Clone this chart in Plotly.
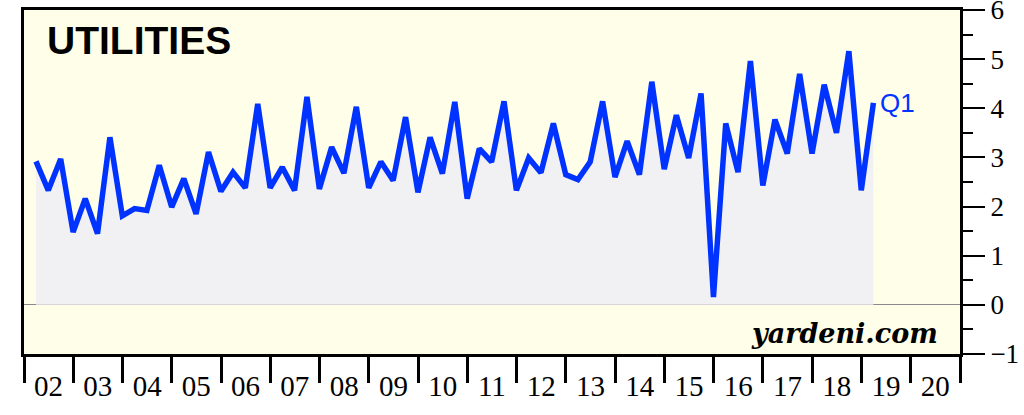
import plotly.graph_objects as go
import pandas as pd

# Quarterly data, 2002 Q1 .. 2019 Q1
start_quarter = "2002Q1"
values = [
    2.92, 2.33, 2.97, 1.48, 2.16, 1.45, 3.41, 1.81, 1.96, 1.92, 2.84, 1.99,
    2.57, 1.85, 3.11, 2.31, 2.70, 2.38, 4.09, 2.38, 2.80, 2.33, 4.23, 2.36,
    3.21, 2.68, 4.03, 2.38, 2.91, 2.53, 3.82, 2.29, 3.41, 2.67, 4.13, 2.16,
    3.18, 2.91, 4.14, 2.33, 2.99, 2.69, 3.69, 2.65, 2.55, 2.91, 4.14, 2.60,
    3.33, 2.65, 4.54, 2.76, 3.86, 2.99, 4.30, 0.16, 3.69, 2.70, 4.96, 2.43,
    3.77, 3.08, 4.70, 3.08, 4.48, 3.50, 5.16, 2.33, 4.11,
]
year_labels = ["02", "03", "04", "05", "06", "07", "08", "09", "10", "11",
               "12", "13", "14", "15", "16", "17", "18", "19", "20"]
years = list(range(2002, 2021))
y_ticks = [-1, 0, 1, 2, 3, 4, 5, 6]
last_label = "Q1"
title_text = "UTILITIES"
source_text = "yardeni.com"

periods = pd.period_range(start=start_quarter, periods=len(values), freq="Q")
dates = [p.end_time.normalize() for p in periods]

BLUE = "rgb(0,51,255)"

fig = go.Figure()
fig.add_trace(go.Scatter(
    x=dates, y=values, mode="lines",
    line=dict(color=BLUE, width=5.5),
    fill="tozeroy", fillcolor="#f1f1f3",
    hoverinfo="skip", showlegend=False,
))

fig.add_annotation(
    x=dates[-1], y=values[-1], xref="x", yref="y",
    text=last_label, showarrow=False, xanchor="left", yanchor="middle",
    xshift=5, font=dict(family="Liberation Sans, Arial", size=26, color=BLUE),
)
fig.add_annotation(
    x=(45 - 24) / 936, y=1 - (40 - 10) / 344, xref="paper", yref="paper",
    text="<b>" + title_text + "</b>", showarrow=False, xanchor="left", yanchor="middle",
    font=dict(family="Liberation Sans, Arial", size=39, color="black"),
)
fig.add_annotation(
    x=(940 - 24) / 936, y=1 - (333 - 10) / 344, xref="paper", yref="paper",
    text="<b><i>" + source_text + "</i></b>", showarrow=False, xanchor="right", yanchor="middle",
    font=dict(family="DejaVu Serif", size=27, color="black"),
)

mid_year = [pd.Timestamp(f"{y}-07-02") for y in years]

fig.update_layout(
    width=1024, height=415,
    margin=dict(l=24, r=64, t=10, b=61),
    paper_bgcolor="white",
    plot_bgcolor="#fffee8",
    xaxis=dict(
        type="date", automargin=False,
        range=[pd.Timestamp("2002-01-01"), pd.Timestamp("2021-01-01")],
        tickmode="array", tickvals=mid_year, ticktext=year_labels,
        ticks="outside", ticklen=4, tickcolor="rgba(0,0,0,0)",
        tickfont=dict(family="Liberation Serif, Times New Roman", size=29, color="black"),
        ticklabeloverflow="allow",
        showline=True, linecolor="black", linewidth=3, mirror=True,
        showgrid=False, zeroline=False,
        minor=dict(
            tickmode="array",
            tickvals=[pd.Timestamp(f"{y}-01-01") for y in years + [2021]],
            ticks="outside", ticklen=26, tickwidth=3, tickcolor="black",
            showgrid=False,
        ),
    ),
    yaxis=dict(
        side="right", automargin=False,
        range=[-1, 6],
        tickmode="array", tickvals=y_ticks,
        ticks="outside", ticklen=22, tickwidth=2, tickcolor="black",
        tickfont=dict(family="Liberation Serif, Times New Roman", size=27, color="black"),
        ticklabeloverflow="allow",
        showline=True, linecolor="black", linewidth=3, mirror=True,
        showgrid=False,
        zeroline=True, zerolinecolor="#8a8a8a", zerolinewidth=1,
        minor=dict(dtick=0.5, tick0=0, ticks="outside", ticklen=10, tickwidth=2,
                   tickcolor="black", showgrid=False),
    ),
)

fig.write_html("out.html", config={"displayModeBar": False},
               post_script="document.body.style.margin='0px';")
